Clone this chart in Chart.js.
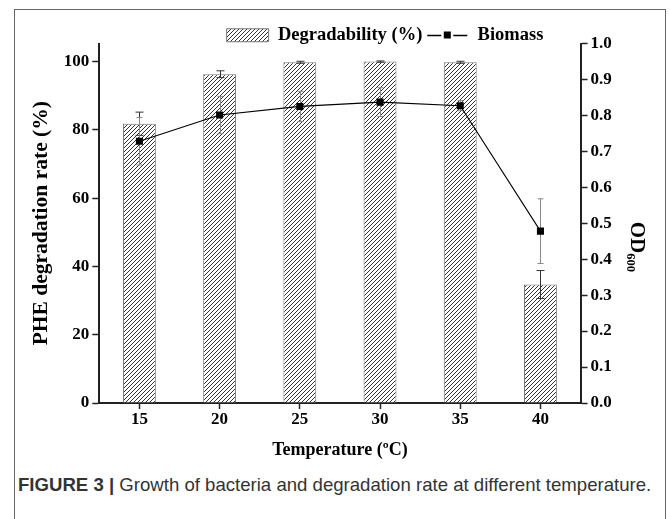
<!DOCTYPE html>
<html>
<head>
<meta charset="utf-8">
<script src="https://cdn.jsdelivr.net/npm/chart.js@4.4.1/dist/chart.umd.min.js"></script>
<style>
    body { margin: 0; background: #fff; }
    #wrap { position: relative; width: 670px; height: 519px; overflow: hidden; }
    #frame {
        position: absolute; left: 14px; top: 9px; width: 652px; height: 530px;
        border: 1px solid #666; box-sizing: border-box;
    }
    #chartBox { position: absolute; left: 0; top: 0; width: 670px; height: 461px; }
    #caption {
        position: absolute; left: 18px; top: 474px; margin: 0;
        font-family: "Liberation Sans", Arial, sans-serif; font-size: 18.6px; color: #333;
        white-space: nowrap;
    }
</style>
</head>
<body>
<div id="wrap">
    <div id="frame"></div>
    <div id="chartBox"><canvas id="myChart"></canvas></div>
    <p id="caption"><b>FIGURE 3 |</b> Growth of bacteria and degradation rate at different temperature.</p>
</div>
<script>
const temperatures = ["15", "20", "25", "30", "35", "40"];
const degradability = [81.8, 96.3, 99.8, 100.0, 99.8, 34.7];
const degradabilityErr = [3.4, 1.0, 0.3, 0.2, 0.3, 4.1];
const biomass = [0.728, 0.801, 0.825, 0.837, 0.827, 0.478];
const biomassErr = [0.066, 0.052, 0.042, 0.040, 0.014, 0.090];
const leftTicks = [0, 20, 40, 60, 80, 100];

const serifBold = { family: "'Liberation Serif', 'Times New Roman', serif", weight: "bold", size: 17 };

function makeHatch() {
    const s = 4;
    const c = document.createElement("canvas");
    c.width = s;
    c.height = s;
    const g = c.getContext("2d");
    g.fillStyle = "#fff";
    g.fillRect(0, 0, s, s);
    g.strokeStyle = "#333";
    g.lineWidth = 1;
    g.beginPath();
    g.moveTo(0, s);
    g.lineTo(s, 0);
    g.moveTo(-1, 1);
    g.lineTo(1, -1);
    g.moveTo(s - 1, s + 1);
    g.lineTo(s + 1, s - 1);
    g.stroke();
    return g.createPattern(c, "repeat");
}

const ctx = document.getElementById("myChart");
const hatch = makeHatch();

function drawErrors(chart, dsIndex, values, errs, scaleId, color, cap) {
    const c = chart.ctx;
    const meta = chart.getDatasetMeta(dsIndex);
    const scale = chart.scales[scaleId];
    c.save();
    c.strokeStyle = color;
    c.lineWidth = 1;
    meta.data.forEach((el, i) => {
        const x = Math.round(el.x) + 0.5;
        const yTop = scale.getPixelForValue(values[i] + errs[i]);
        const yBot = scale.getPixelForValue(values[i] - errs[i]);
        c.beginPath();
        c.moveTo(x, yTop);
        c.lineTo(x, yBot);
        c.moveTo(x - cap / 2, yTop);
        c.lineTo(x + cap / 2, yTop);
        c.moveTo(x - cap / 2, yBot);
        c.lineTo(x + cap / 2, yBot);
        c.stroke();
    });
    c.restore();
}

const errorBars = {
    id: "errorBars",
    afterUpdate(chart) {
        // the legend sits right of centre and a bit lower in the original
        const lg = chart.legend;
        const dx = 385 - (lg.left + lg.right) / 2;
        const dy = 11;
        lg.left += dx;
        lg.right += dx;
        lg.top += dy;
        lg.bottom += dy;
        lg.legendHitBoxes.forEach((hb) => {
            hb.left += dx;
            hb.top += dy;
        });
    },
    beforeDatasetDraw(chart, args) {
        if (args.index !== 1) return;
        drawErrors(chart, 0, degradability, degradabilityErr, "y", "#333", 8);
        drawErrors(chart, 1, biomass, biomassErr, "y1", "#888", 6);
    },
    afterDraw(chart) {
        // line + square symbol for the Biomass legend entry
        const box = chart.legend.legendHitBoxes[1];
        if (!box) return;
        const c = chart.ctx;
        const cy = Math.round(box.top + box.height / 2) + 0.5;
        const x0 = box.left;
        c.save();
        c.strokeStyle = "#000";
        c.lineWidth = 1.5;
        c.beginPath();
        c.moveTo(x0 + 1, cy);
        c.lineTo(x0 + 15, cy);
        c.moveTo(x0 + 27, cy);
        c.lineTo(x0 + 41, cy);
        c.stroke();
        c.fillStyle = "#000";
        c.fillRect(x0 + 17.5, cy - 4, 7, 7);
        c.restore();
    },
};

const chart = new Chart(ctx, {
    type: "bar",
    data: {
        labels: temperatures,
        datasets: [
            {
                label: "Degradability (%)",
                data: degradability,
                yAxisID: "y",
                backgroundColor: hatch,
                borderColor: "#777",
                borderWidth: 1,
                barPercentage: 0.41,
                categoryPercentage: 1,
                order: 1,
            },
            {
                type: "line",
                label: "Biomass",
                data: biomass,
                yAxisID: "y1",
                borderColor: "#000",
                backgroundColor: "#000",
                borderWidth: 1.1,
                tension: 0,
                pointStyle: "rect",
                pointRadius: 5,
                pointBorderWidth: 0,
                order: 0,
            },
        ],
    },
    options: {
        responsive: true,
        maintainAspectRatio: false,
        animation: false,
        layout: {
            padding: { left: 29, right: 9, top: 11, bottom: 0 },
        },
        plugins: {
            tooltip: { enabled: false },
            legend: {
                position: "top",
                labels: {
                    boxWidth: 42,
                    boxHeight: 13,
                    padding: 4,
                    color: "#000",
                    font: { ...serifBold, size: 18.5 },
                    sort: (a, b) => a.datasetIndex - b.datasetIndex,
                    generateLabels(chart) {
                        const items = Chart.defaults.plugins.legend.labels.generateLabels(chart);
                        items.forEach((it) => {
                            if (it.datasetIndex === 1) {
                                it.fillStyle = "rgba(0,0,0,0)";
                                it.strokeStyle = "rgba(0,0,0,0)";
                                it.lineWidth = 0;
                            }
                        });
                        return items;
                    },
                },
            },
        },
        scales: {
            x: {
                offset: true,
                grid: {
                    offset: false,
                    drawOnChartArea: false,
                    tickLength: 6,
                    tickWidth: 1.5,
                    tickColor: "#222",
                },
                border: { color: "#222", width: 2 },
                ticks: { color: "#000", font: serifBold, padding: 0 },
                title: {
                    display: true,
                    text: "Temperature (ºC)",
                    color: "#000",
                    font: { ...serifBold, size: 18 },
                    padding: { top: 10, bottom: 0 },
                },
            },
            y: {
                position: "left",
                min: 0,
                max: 105.3,
                afterBuildTicks(axis) {
                    axis.ticks = leftTicks.map((v) => ({ value: v }));
                },
                grid: {
                    drawOnChartArea: false,
                    tickLength: 7,
                    tickWidth: 1.5,
                    tickColor: "#222",
                },
                border: { color: "#222", width: 2 },
                ticks: { color: "#000", font: serifBold, padding: 3 },
                title: {
                    display: true,
                    text: "PHE degradation rate (%)",
                    color: "#000",
                    font: { ...serifBold, size: 21.5 },
                    padding: { top: 0, bottom: 6 },
                },
            },
            y1: {
                position: "right",
                min: 0,
                max: 1,
                grid: {
                    drawOnChartArea: false,
                    tickLength: 7,
                    tickWidth: 1.5,
                    tickColor: "#222",
                },
                border: { color: "#222", width: 2 },
                ticks: {
                    color: "#000",
                    font: serifBold,
                    padding: 3,
                    stepSize: 0.1,
                    callback: (v) => Number(v).toFixed(1),
                },
                title: {
                    display: true,
                    text: "         OD₆₀₀",
                    color: "#000",
                    font: { ...serifBold, size: 21 },
                    padding: { top: 12, bottom: 9 },
                },
            },
        },
    },
    plugins: [errorBars],
});
</script>
</body>
</html>
